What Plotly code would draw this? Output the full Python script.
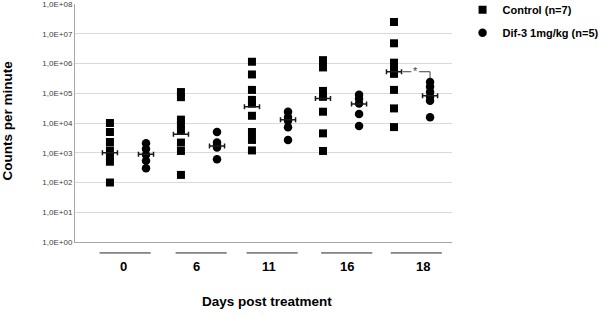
import plotly.graph_objects as go

# ---- data ----
days = ["0", "6", "11", "16", "18"]
control_values = [
    [10000, 5000, 2300, 1200, 750, 500, 100],
    [110000, 74000, 13000, 9000, 5500, 2200, 1150, 180],
    [1150000, 430000, 130000, 60000, 45000, 17500, 5000, 2700, 1200],
    [1300000, 740000, 120000, 76000, 24000, 4500, 1150],
    [25000000, 4800000, 1070000, 690000, 450000, 130000, 31000, 7300],
]
dif3_values = [
    [2100, 1350, 850, 540, 300],
    [5000, 2200, 1800, 1500, 600],
    [24000, 16000, 12000, 7200, 2700],
    [90000, 65000, 45000, 20000, 8000],
    [240000, 167000, 110000, 76000, 56000, 15500],
]
control_mean = [1000, 4200, 35000, 67000, 530000]
dif3_mean = [890, 1700, 13000, 44000, 83000]
ytick_vals = [1e0, 1e1, 1e2, 1e3, 1e4, 1e5, 1e6, 1e7, 1e8]
ytick_text = ["1,0E+00", "1,0E+01", "1,0E+02", "1,0E+03", "1,0E+04",
              "1,0E+05", "1,0E+06", "1,0E+07", "1,0E+08"]
series_names = ["Control (n=7)", "Dif-3 1mg/kg (n=5)"]
sig_label = "*"

# ---- layout constants ----
OFF = 0.254          # offset of each series from group centre
MEAN_HALF = 0.106    # half width of mean bar
SEG_SHIFT = [-0.04, 0.03, 0.03, 0.08, 0.06]     # underline centre shift per group
LABEL_SHIFT = [-0.06, -0.04, -0.02, 0.08, 0.16]  # label shift per group
SEG_HALF = 0.36
FONT = "Liberation Sans, Arial, sans-serif"

fig = go.Figure()

def xs(groups, off):
    out = []
    for i, g in enumerate(groups):
        out += [i + off] * len(g)
    return out

def ys(groups):
    out = []
    for g in groups:
        out += g
    return out

fig.add_trace(go.Scatter(
    x=xs(control_values, -OFF), y=ys(control_values), mode="markers",
    name=series_names[0], legendgroup="a",
    marker=dict(symbol="square", size=8, color="black")))
fig.add_trace(go.Scatter(
    x=xs(dif3_values, OFF), y=ys(dif3_values), mode="markers",
    name=series_names[1], legendgroup="b",
    marker=dict(symbol="circle", size=8.5, color="black")))

# mean bars
for means, off in [(control_mean, -OFF), (dif3_mean, OFF)]:
    fig.add_trace(go.Scatter(
        x=[i + off for i in range(len(means))], y=means, mode="markers",
        showlegend=False, hoverinfo="skip",
        marker=dict(size=1, color="rgba(0,0,0,0)"),
        error_x=dict(type="constant", value=MEAN_HALF, color="#1a1a1a",
                     thickness=1.5, width=2.5)))

# significance bracket (day 18)
k = len(days) - 1
y_top = control_mean[k]
fig.add_trace(go.Scatter(
    x=[k - OFF + 0.12, k - 0.01, None, k + 0.1, k + OFF, k + OFF],
    y=[y_top, y_top, None, y_top, y_top, y_top / 1.7],
    mode="lines", line=dict(color="#404040", width=1),
    showlegend=False, hoverinfo="skip"))
fig.add_trace(go.Scatter(
    x=[k + 0.045], y=[y_top / 1.05], mode="text", text=[sig_label],
    textfont=dict(family=FONT, size=11, color="#404040"),
    showlegend=False, hoverinfo="skip"))

# category underline segments and labels
for i, d in enumerate(days):
    c = i + SEG_SHIFT[i]
    fig.add_shape(type="line", xref="x", yref="paper",
                  x0=c - SEG_HALF, x1=c + SEG_HALF, y0=-0.046, y1=-0.046,
                  line=dict(color="#262626", width=1))
    fig.add_annotation(x=i + LABEL_SHIFT[i], y=-0.105, xref="x", yref="paper",
                       text=f"<b>{d}</b>", xanchor="center", yanchor="middle",
                       showarrow=False, font=dict(family=FONT, size=13, color="black"))

fig.add_annotation(x=0.51, y=-0.25, xref="paper", yref="paper",
                   xanchor="center", yanchor="middle",
                   text="<b>Days post treatment</b>", showarrow=False,
                   font=dict(family=FONT, size=13.5, color="black"))
fig.add_annotation(x=-0.178, y=0.51, xref="paper", yref="paper", textangle=-90,
                   xanchor="center", yanchor="middle",
                   text="<b>Counts per minute</b>", showarrow=False,
                   font=dict(family=FONT, size=13.5, color="black"))

fig.update_xaxes(range=[-0.746, 4.563], showticklabels=False, showgrid=False,
                 zeroline=False, showline=True, linecolor="#a6a6a6", linewidth=1)
fig.update_yaxes(type="log", range=[-0.0005, 8.002], tickvals=ytick_vals, ticktext=ytick_text,
                 tickfont=dict(family=FONT, size=8, color="#404040"),
                 ticklabeloverflow="allow",
                 showgrid=True, gridcolor="#d9d9d9", gridwidth=1, zeroline=False,
                 showline=True, linecolor="#a6a6a6", linewidth=1, ticks="",
                 automargin=False)

fig.update_layout(
    width=600, height=317,
    margin=dict(l=75, r=148, t=4, b=75, autoexpand=False),
    plot_bgcolor="white", paper_bgcolor="white",
    showlegend=True,
    legend=dict(x=1.028, y=1.037, xanchor="left", yanchor="top",
                font=dict(family=FONT, size=11, color="black", weight="bold"),
                tracegroupgap=4, bgcolor="rgba(0,0,0,0)"),
    font=dict(family=FONT),
)

fig.write_html("out.html", config={"displayModeBar": False},
               post_script="document.body.style.margin='0';")
